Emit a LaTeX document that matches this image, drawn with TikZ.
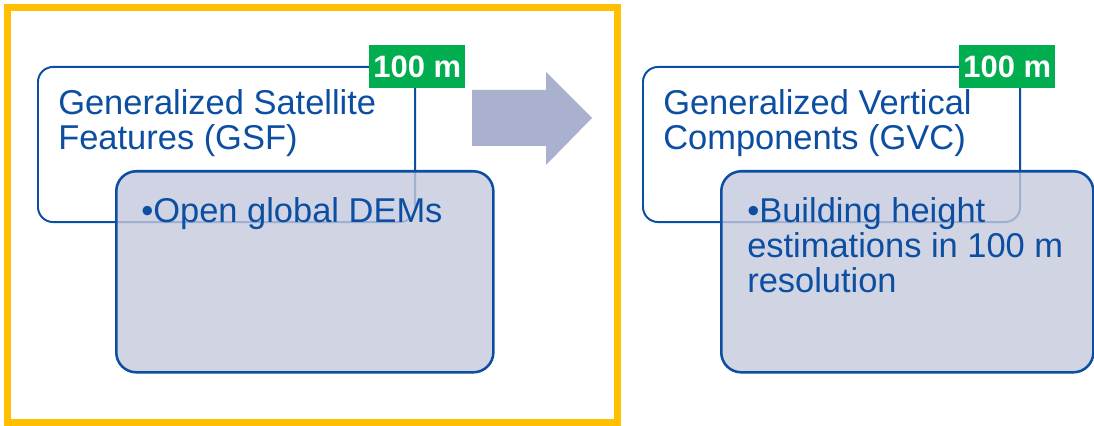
\documentclass[tikz,border=0pt]{standalone}
\usepackage{fontspec}
\setmainfont{Liberation Sans}

\definecolor{dkblue}{HTML}{0B4EA2}
\definecolor{frameyellow}{HTML}{FFC000}
\definecolor{resgreen}{HTML}{00AD4F}
\definecolor{arrowgray}{HTML}{AAB1CE}
\definecolor{boxfill}{HTML}{C4C9DC}

\tikzset{
	featbox/.style={draw=dkblue, line width=1.4pt, rounded corners=0.375cm, fill=white,
		inner sep=0pt, anchor=north west, minimum width=9.425cm, minimum height=3.875cm},
	itembox/.style={draw=dkblue, line width=1.8pt, rounded corners=0.5cm, fill=boxfill,
		fill opacity=0.8, inner sep=0pt, anchor=north west, minimum height=5.025cm},
	reslabel/.style={fill=resgreen, text=white, inner sep=0pt, anchor=north west,
		minimum width=2.4cm, minimum height=1.075cm,
		font=\fontsize{22}{22}\selectfont\bfseries},
	titletext/.style={text=dkblue, inner sep=0pt, anchor=north west, align=left,
		font=\fontsize{24.5}{25}\selectfont},
	itemtext/.style={titletext}
}

\begin{document}
\begin{tikzpicture}[x=0.025cm, y=-0.025cm]
	\useasboundingbox (0,0) rectangle (1094,426);

	% yellow frame round the left panel
	\draw[frameyellow, line width=5pt] (7.5,7.5) rectangle (617.5,423);

	% left panel: GSF
	\node[featbox] (gsfbox) at (37,66) {};
	\node[reslabel] (gsfres) at (369,45) {100 m};
	\node[titletext] (gsftxt) at (58,89.5) {Generalized Satellite\\Features (GSF)};

	% arrow between the panels
	\fill[arrowgray] (472,90) -- (546,90) -- (546,72) -- (592,118)
		-- (546,165) -- (546,146) -- (472,146) -- cycle;

	% right panel: GVC
	\node[featbox] (gvcbox) at (642,66) {};
	\node[reslabel] (gvcres) at (959,45) {100 m};
	\node[titletext] (gvctxt) at (663,89.5) {Generalized Vertical\\Components (GVC)};

	% item boxes (lying over the feature boxes)
	\node[itembox, minimum width=9.425cm] (gsfitem) at (115,170) {};
	\node[itembox, minimum width=9.3cm] (gvcitem) at (720,170) {};
	\node[itemtext] (gsfdem) at (141,197) {•Open global DEMs};
	\node[itemtext] (gvcheight) at (747,197) {•Building height\\estimations in 100 m\\resolution};
\end{tikzpicture}
\end{document}
